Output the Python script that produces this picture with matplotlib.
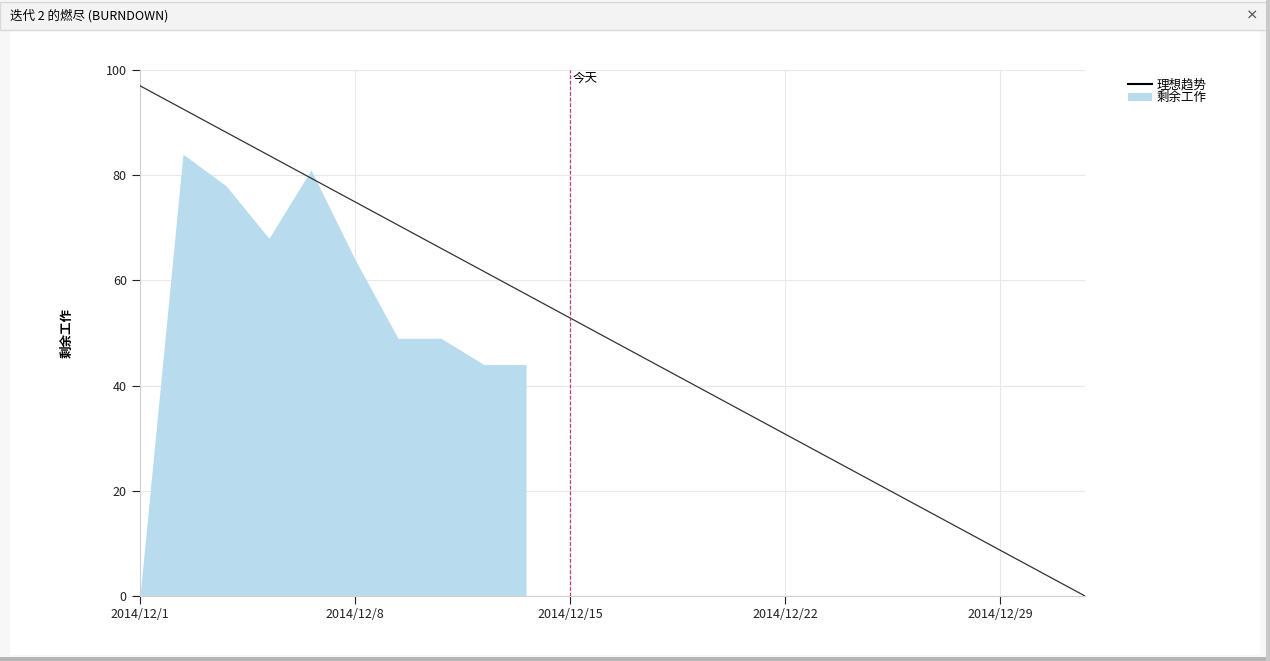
import numpy as np
import matplotlib
matplotlib.use('Agg')
import matplotlib.pyplot as plt
from matplotlib.patches import Rectangle, Patch
from matplotlib.lines import Line2D

plt.rcParams['font.family'] = ['Noto Sans CJK SC', 'DejaVu Sans']

# 数据（天数，从 2014/12/1 起）
work_days = [0, 1.4, 2.8, 4.2, 5.57, 7.0, 8.4, 9.8, 11.2, 12.57, 12.57]
remaining = [0, 84, 78, 68, 81, 64, 49, 49, 44, 44, 0]
ideal_days = [0, 30.77]
ideal_vals = [97, 0]
today = 14
tick_days = [0, 7, 14, 21, 28]
tick_labels = ['2014/12/1', '2014/12/8', '2014/12/15', '2014/12/22', '2014/12/29']

fig = plt.figure(figsize=(12.7, 6.61), dpi=100)
fig.patch.set_facecolor('white')

# 窗口外框与标题栏
fig.add_artist(Rectangle((0, 0), 1, 1, transform=fig.transFigure, facecolor='#f7f7f7',
                         edgecolor='none', zorder=-3))
fig.add_artist(Rectangle((10 / 1270, 6 / 661), 1250 / 1270, 594 / 661 + 30 / 661,
                         transform=fig.transFigure, facecolor='white', edgecolor='none', zorder=-2))
fig.add_artist(Rectangle((0, 631 / 661), 1, 28 / 661, transform=fig.transFigure,
                         facecolor='#f3f3f3', edgecolor='#d8d8d8', lw=1, zorder=-1))
fig.add_artist(Rectangle((0, 0), 1, 4 / 661, transform=fig.transFigure,
                         facecolor='#b5b5b5', edgecolor='none', zorder=-1))
fig.add_artist(Rectangle((1266 / 1270, 0), 4 / 1270, 1, transform=fig.transFigure,
                         facecolor='#c8c8c8', edgecolor='none', zorder=-1))
fig.text(10 / 1270, 1 - 16 / 661, '迭代 2 的燃尽 (BURNDOWN)', fontsize=9, va='center', ha='left')
fig.text(1252 / 1270, 1 - 16 / 661, '×', fontsize=9, va='center', ha='center',
         color='#555555', fontweight='bold')

ax = fig.add_axes([140 / 1270, 65 / 661, 945 / 1270, 526 / 661])
ax.fill_between(work_days, remaining, 0, color='#b8dcee', lw=0, zorder=2)
ax.plot(ideal_days, ideal_vals, color='#333333', lw=0.9, zorder=3)
ax.axvline(today, color='#c0398a', lw=0.9, ls=(0, (3, 1.5)), zorder=3)
ax.text(today + 0.08, 99.6, '今天', fontsize=9, va='top', ha='left')

ax.set_xlim(0, 30.77)
ax.set_ylim(0, 100)
ax.set_xticks(tick_days)
ax.set_xticklabels(tick_labels)
ax.set_yticks(range(0, 101, 20))
ax.grid(True, color='#e8e8e8', lw=0.8, zorder=0)
ax.set_axisbelow(True)
for s in ['top', 'right']:
    ax.spines[s].set_visible(False)
ax.spines['left'].set_color('#d0d0d0')
ax.spines['bottom'].set_color('#d0d0d0')
ax.tick_params(axis='both', labelsize=9, colors='#222222', length=6, width=0.8)
ax.tick_params(axis='x', pad=3)
ax.set_ylabel('剩余工作', fontsize=9, fontweight='bold', labelpad=23)

handles = [Line2D([], [], color='black', lw=1.5), Patch(facecolor='#b8dcee', edgecolor='none')]
fig.legend(handles, ['理想趋势', '剩余工作'], loc='upper left',
           bbox_to_anchor=(1122 / 1270, 1 - 72 / 661), frameon=False, fontsize=9,
           handlelength=1.9, handletextpad=0.4, labelspacing=0.0, borderpad=0)

plt.savefig('out.png', dpi=100)
